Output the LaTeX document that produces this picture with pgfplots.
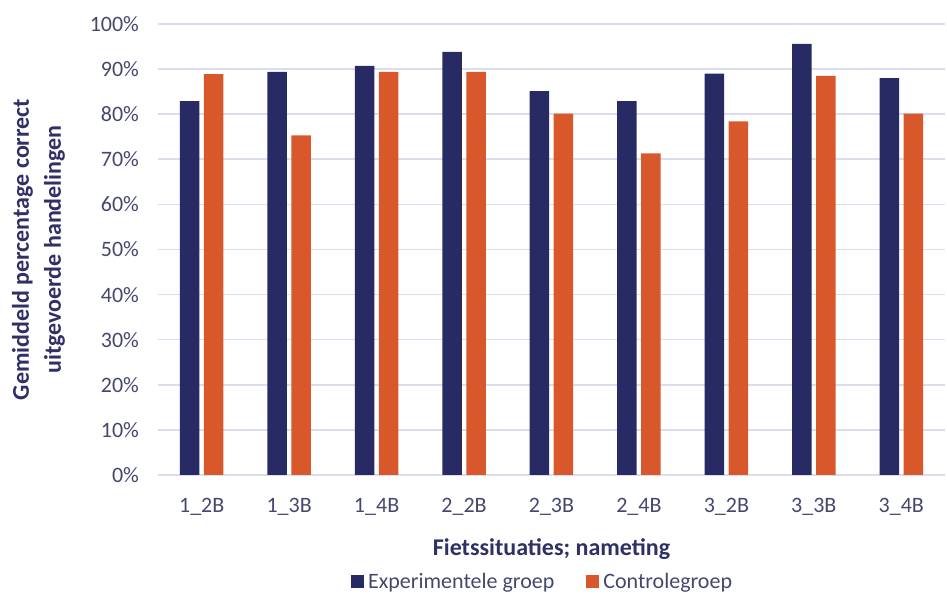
\documentclass[border=0pt]{standalone}
\usepackage{fontspec}
\setmainfont{Carlito}
\usepackage{pgfplots}
\pgfplotsset{compat=1.18}
\definecolor{navy}{HTML}{282A64}
\definecolor{orng}{HTML}{D9582B}
\definecolor{gridc}{HTML}{DCDCF0}
\definecolor{txt}{HTML}{45476F}
\definecolor{lab}{HTML}{2E3066}
\begin{document}
\begin{tikzpicture}
\useasboundingbox (-79pt,-61pt) rectangle (394.5pt,237.5pt);
\begin{axis}[
  at={(0,0)}, anchor=south west,
  scale only axis, width=393.5pt, height=225.5pt,
  /pgf/number format/assume math mode=true,
  ymin=0, ymax=100, ytick={0,10,...,100},
  yticklabel={\pgfmathprintnumber{\tick}\%},
  xmin=-0.5, xmax=8.5, xtick={0,...,8},
  xticklabels={1\_2B,1\_3B,1\_4B,2\_2B,2\_3B,2\_4B,3\_2B,3\_3B,3\_4B},
  ybar=2.25pt, bar width=9.75pt,
  axis x line*=bottom, axis y line*=left,
  x axis line style={-, gridc, line width=0.9pt},
  y axis line style={draw=none},
  major tick length=0pt,
  ymajorgrids, grid style={gridc, line width=0.8pt},
  tick label style={font=\fontsize{11}{13}\selectfont, text=txt},
  yticklabel style={xshift=-6pt},
  xticklabel style={yshift=-8pt},
  every axis x label/.style={at={(axis description cs:0.5,-0.164)}, anchor=center, font=\fontsize{12}{14}\selectfont\bfseries, text=lab},
  every axis y label/.style={at={(axis description cs:-0.152,0.5)}, rotate=90, anchor=center, align=center, font=\fontsize{12}{16}\selectfont\bfseries, text=lab},
  xlabel={Fietssituaties; nameting},
  ylabel={Gemiddeld percentage correct\\uitgevoerde handelingen},
  legend style={at={(axis description cs:0.49,-0.237)}, anchor=center, draw=none, fill=none, legend columns=2, font=\fontsize{11}{13}\selectfont, text=txt, /tikz/every even column/.append style={column sep=14pt}},
  legend image code/.code={\fill[#1] (0pt,-3.25pt) rectangle (6.5pt,3.25pt);},
]
\addplot[fill=navy, draw=none] coordinates {(0,82.9) (1,89.4) (2,90.7) (3,93.8) (4,85.1) (5,82.9) (6,89.0) (7,95.6) (8,88.0)};
\addplot[fill=orng, draw=none] coordinates {(0,88.9) (1,75.3) (2,89.4) (3,89.4) (4,80.1) (5,71.3) (6,78.4) (7,88.5) (8,80.1)};
\legend{Experimentele groep, Controlegroep}
\end{axis}
\end{tikzpicture}
\end{document}
